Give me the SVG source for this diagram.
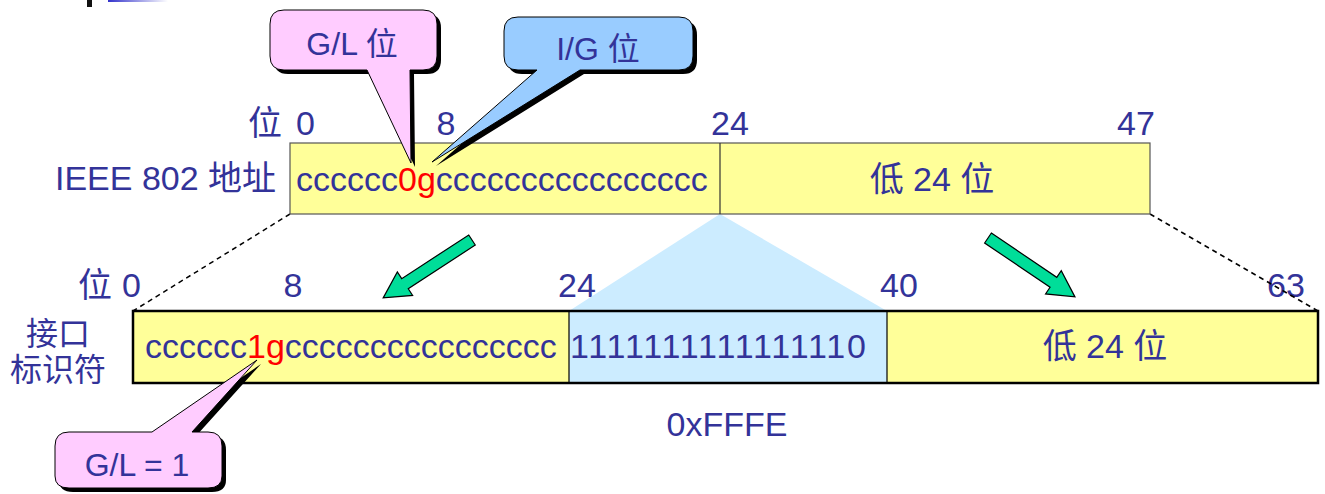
<svg xmlns="http://www.w3.org/2000/svg" width="1325" height="494" viewBox="0 0 1325 494">
<style>
text{font-family:"Liberation Sans",Arial,"Noto Sans CJK SC",sans-serif;fill:#333399;font-size:34px}
.red{fill:#FF0000}
.cj{font-size:32px}
.co{font-size:32px;text-anchor:middle}
.mid{text-anchor:middle}
.shadow{fill:#000}
.pink{fill:#FFCCFF;stroke:#000;stroke-width:1}
.blue{fill:#99CCFF;stroke:#000;stroke-width:1}
.yel{fill:#FFFF99}
.dash{stroke:#000;stroke-width:1.5;stroke-dasharray:5 4;fill:none}
.arrow{fill:#00DD99;stroke:#000;stroke-width:1.2}
</style>
<defs>
<linearGradient id="tg" x1="0" x2="1" y1="0" y2="0">
<stop offset="0" stop-color="#3333CC"/>
<stop offset="1" stop-color="#FFFFFF"/>
</linearGradient>
</defs>
<rect x="87" y="0" width="5" height="7" fill="#111"/>
<rect x="108" y="0" width="60" height="2" fill="url(#tg)"/>

<g id="labels">
<text x="248" y="135">位</text>
<text x="296" y="135">0</text>
<text x="446" y="135" class="mid">8</text>
<text x="711" y="135">24</text>
<text x="1117" y="135">47</text>
<text x="55" y="190">IEEE 802 地址</text>
<text x="78" y="297">位</text>
<text x="122" y="297">0</text>
<text x="293" y="297" class="mid">8</text>
<text x="558" y="297">24</text>
<text x="880" y="297">40</text>
<text x="1267" y="297">63</text>
<text x="58" y="345" class="cj mid">接口</text>
<text x="58" y="381" class="cj mid">标识符</text>
<text x="727" y="436" class="mid">0xFFFE</text>
</g>

<g id="connectors">
<polygon points="720,214 569,311 887,311" fill="#CCECFF"/>
<line class="dash" x1="290" y1="214" x2="133" y2="311"/>
<line class="dash" x1="1150" y1="214" x2="1318" y2="311"/>
<polygon class="arrow" transform="translate(472,240) rotate(146.9)" points="0,-6 80,-6 80,-14 106,0 80,14 80,6 0,6"/>
<polygon class="arrow" transform="translate(988,238) rotate(34.1)" points="0,-6 79,-6 79,-14 105,0 79,14 79,6 0,6"/>
</g>

<g id="ieee802">
<rect class="yel" x="290" y="143" width="860" height="71" stroke="#555" stroke-width="1.2"/>
<line x1="720" y1="143" x2="720" y2="214" stroke="#333" stroke-width="1.2"/>
<text x="296" y="191">cccccc<tspan class="red">0g</tspan>cccccccccccccccc</text>
<text x="932" y="191" class="mid">低 24 位</text>
</g>

<g id="eui64">
<rect class="yel" x="133" y="311" width="1185" height="72"/>
<rect x="569" y="311" width="318" height="72" fill="#CCECFF"/>
<rect x="133" y="311" width="1185" height="72" fill="none" stroke="#000" stroke-width="2.5"/>
<line x1="569" y1="311" x2="569" y2="383" stroke="#000" stroke-width="1.2"/>
<line x1="887" y1="311" x2="887" y2="383" stroke="#000" stroke-width="1.2"/>
<text x="145" y="358">cccccc<tspan class="red">1g</tspan>cccccccccccccccc</text>
<text x="570" y="358" textLength="296" lengthAdjust="spacing">1111111111111110</text>
<text x="1105" y="358" class="mid">低 24 位</text>
</g>

<g id="callout-gl">
<path class="shadow" transform="translate(4,4)" d="M284,10 H423 Q437,10 437,24 V56 Q437,70 423,70 H410 L411,163 L367,70 H284 Q270,70 270,56 V24 Q270,10 284,10 Z"/>
<path class="pink" d="M284,10 H423 Q437,10 437,24 V56 Q437,70 423,70 H410 L411,163 L367,70 H284 Q270,70 270,56 V24 Q270,10 284,10 Z"/>
<text x="352" y="55" class="co">G/L 位</text>
</g>

<g id="callout-ig">
<path class="shadow" transform="translate(4,4)" d="M518,17 H679 Q693,17 693,31 V56 Q693,70 679,70 H580 L432,162 L537,70 H518 Q504,70 504,56 V31 Q504,17 518,17 Z"/>
<path class="blue" d="M518,17 H679 Q693,17 693,31 V56 Q693,70 679,70 H580 L432,162 L537,70 H518 Q504,70 504,56 V31 Q504,17 518,17 Z"/>
<text x="598" y="60" class="co">I/G 位</text>
</g>

<g id="callout-gl1">
<path class="shadow" transform="translate(4,4)" d="M69,432 H152 L257,360 L192,432 H208 Q222,432 222,446 V476 Q222,488 208,488 H69 Q55,488 55,476 V446 Q55,432 69,432 Z"/>
<path class="pink" d="M69,432 H152 L257,360 L192,432 H208 Q222,432 222,446 V476 Q222,488 208,488 H69 Q55,488 55,476 V446 Q55,432 69,432 Z"/>
<text x="137" y="476" class="co">G/L = 1</text>
</g>
</svg>
